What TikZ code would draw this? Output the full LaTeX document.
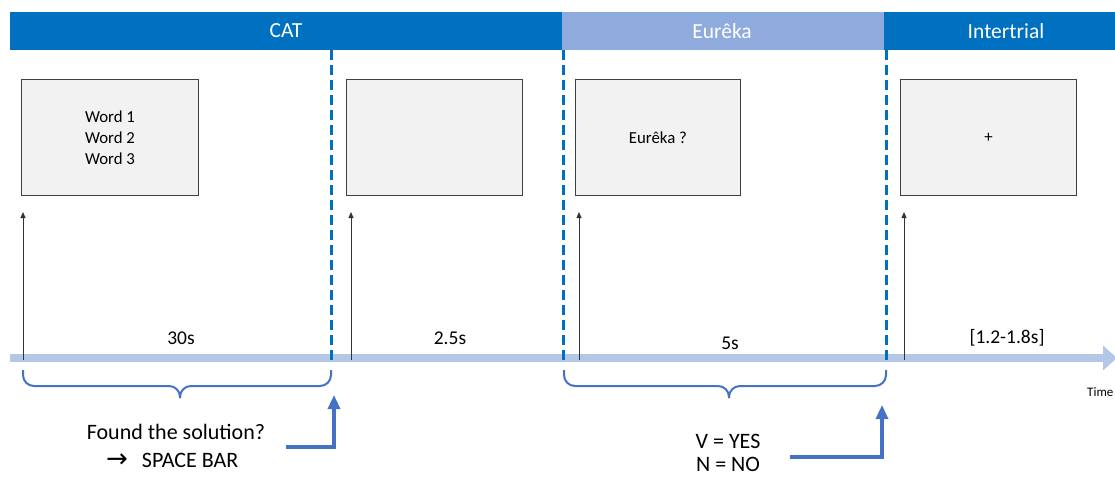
\documentclass[tikz,border=0pt]{standalone}
\usepackage{fontspec}
\setmainfont{Carlito}
\usetikzlibrary{arrows.meta}
\definecolor{darkblue}{HTML}{0070C0}
\definecolor{lightblue}{HTML}{8FAADC}
\definecolor{timeline}{HTML}{B4C7E7}
\definecolor{accent}{HTML}{4472C4}
\definecolor{boxfill}{HTML}{F2F2F2}
\definecolor{boxline}{HTML}{404040}
\tikzset{
  header/.style={fill=#1, draw=none, inner sep=0pt, text=white, font=\fontsize{21.5}{24}\selectfont},
  screen/.style={fill=boxfill, draw=boxline, line width=0.9pt, inner sep=0pt, font=\fontsize{16.8}{21}\selectfont, align=center},
  phase/.style={draw=darkblue, line width=3pt, dash pattern=on 10pt off 5pt},
  onset/.style={draw=black!80, line width=0.8pt, -{Triangle[length=6pt,width=5pt]}},
  dur/.style={font=\fontsize{19.5}{23}\selectfont, inner sep=0pt},
  brace/.style={draw=accent, line width=2pt, rounded corners=11pt},
  resp/.style={draw=accent, line width=3.2pt, -{Triangle[length=14pt,width=12pt]}},
  note/.style={font=\fontsize{22}{22}\selectfont, inner sep=0pt},
}
\begin{document}
\begin{tikzpicture}[x=1pt,y=-1pt]
\useasboundingbox (0,0) rectangle (1115,476);
% header
\node[header=darkblue, minimum width=552pt, minimum height=38pt, anchor=north west] (cat) at (10,12) {};
\node[header=lightblue, minimum width=322pt, minimum height=38pt, anchor=north west] (eur) at (562,12) {};
\node[header=darkblue, minimum width=231pt, minimum height=38pt, anchor=north west] (inter) at (884,12) {};
\node[header=darkblue, fill=none] (catT) at (286,31) {CAT};
\node[header=lightblue, fill=none] (eurT) at (722,31) {Eurêka};
\node[header=darkblue, fill=none] (interT) at (1006,31) {Intertrial};
% timeline
\coordinate (tl0) at (10,358);
\coordinate (tl1) at (1117,358);
\draw[draw=timeline, line width=8pt, -{Triangle[length=14pt,width=24pt]}] (tl0) -- (tl1);
% dashed phase separators
\coordinate (d1a) at (331,50); \coordinate (d1b) at (331,364);
\coordinate (d2a) at (563,50); \coordinate (d2b) at (563,364);
\coordinate (d3a) at (886,50); \coordinate (d3b) at (886,364);
\draw[phase] (d1a) -- (d1b);
\draw[phase] (d2a) -- (d2b);
\draw[phase] (d3a) -- (d3b);
% screens
\node[screen, minimum width=177pt, minimum height=116pt, anchor=north west] (s1) at (21,79) {};
\node[screen, draw=none, fill=none] (s1t) at (110,138) {Word 1\\Word 2\\Word 3};
\node[screen, minimum width=176pt, minimum height=116pt, anchor=north west] (s2) at (346,79) {};
\node[screen, minimum width=165pt, minimum height=116pt, anchor=north west] (s3) at (575,79) {Eurêka ?};
\node[screen, minimum width=176pt, minimum height=116pt, anchor=north west] (s4) at (900,79) {+};
% onset arrows
\coordinate (o1a) at (23,360); \coordinate (o1b) at (23,212);
\coordinate (o2a) at (351,360); \coordinate (o2b) at (351,212);
\coordinate (o3a) at (579,360); \coordinate (o3b) at (579,212);
\coordinate (o4a) at (904,360); \coordinate (o4b) at (904,212);
\draw[onset] (o1a) -- (o1b);
\draw[onset] (o2a) -- (o2b);
\draw[onset] (o3a) -- (o3b);
\draw[onset] (o4a) -- (o4b);
% durations
\node[dur] (t1) at (181,338) {30s};
\node[dur] (t2) at (450,338) {2.5s};
\node[dur] (t3) at (730,343) {5s};
\node[dur] (t4) at (1007,338) {[1.2-1.8s]};
\node[font=\fontsize{13}{13}\selectfont, inner sep=0pt, anchor=west] (time) at (1087,392) {Time};
% braces
\draw[brace] (23,370) -- (23,386) -- (180,386) -- (180,398);
\draw[brace] (331,370) -- (331,386) -- (180,386) -- (180,398);
\draw[brace] (564,370) -- (564,386) -- (729,386) -- (729,398);
\draw[brace] (886,370) -- (886,386) -- (729,386) -- (729,398);
% responses
\node[note] (found) at (176,432) {Found the solution?};
\node[note, anchor=west] (space) at (106,460) {\fontspec{DejaVu Sans}\fontsize{26}{26}\selectfont→\hspace{14pt}\fontspec{Carlito}\fontsize{22}{22}\selectfont SPACE BAR};
\node[note] (yes) at (728,441) {V = YES};
\node[note] (no) at (728,464) {N = NO};
\coordinate (r1a) at (286,447); \coordinate (r1b) at (334,447); \coordinate (r1c) at (334,395);
\coordinate (r2a) at (790,457); \coordinate (r2b) at (882,457); \coordinate (r2c) at (882,405);
\draw[resp] (r1a) -- (r1b) -- (r1c);
\draw[resp] (r2a) -- (r2b) -- (r2c);
\end{tikzpicture}
\end{document}
